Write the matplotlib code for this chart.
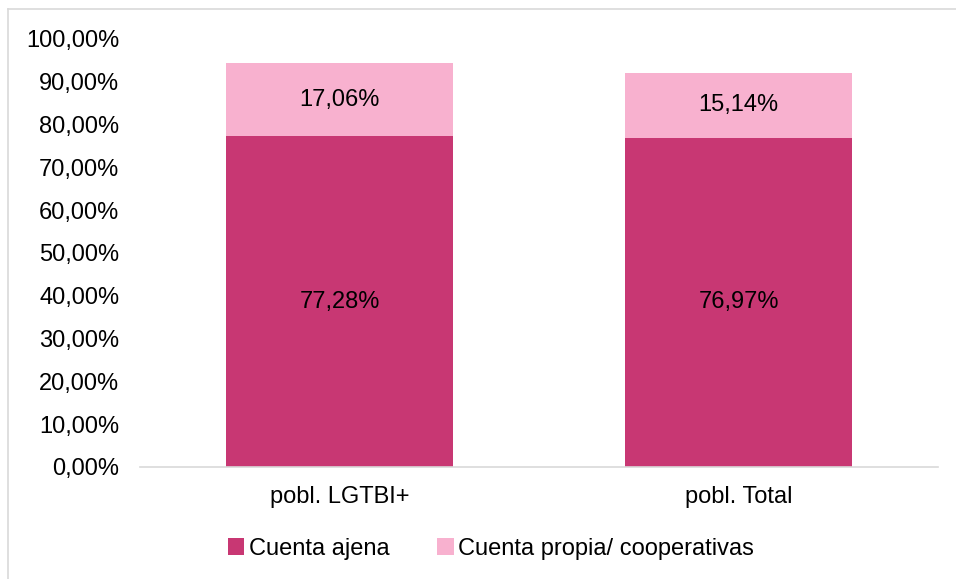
import numpy as np
import matplotlib.pyplot as plt
from matplotlib.lines import Line2D

plt.rcParams['font.family'] = ['Liberation Sans', 'DejaVu Sans']

categories = ['pobl. LGTBI+', 'pobl. Total']
cuenta_ajena = [77.28, 76.97]
cuenta_propia = [17.06, 15.14]
series_names = ['Cuenta ajena', 'Cuenta propia/ cooperativas']
colors = ['#C83773', '#F8B1CF']

fig = plt.figure(figsize=(9.56, 5.79), dpi=100)
ax = fig.add_axes([140/956, 1 - 467/579, 798/956, 428/579])

x = np.arange(len(categories))
w = 0.57
ax.bar(x, cuenta_ajena, w, color=colors[0], label=series_names[0])
ax.bar(x, cuenta_propia, w, bottom=cuenta_ajena, color=colors[1], label=series_names[1])

fmt = lambda v: f'{v:.2f}'.replace('.', ',') + '%'
for i in range(len(categories)):
    ax.text(x[i], cuenta_ajena[i] / 2, fmt(cuenta_ajena[i]), ha='center', va='center', fontsize=17)
    ax.text(x[i], cuenta_ajena[i] + cuenta_propia[i] / 2, fmt(cuenta_propia[i]),
            ha='center', va='center', fontsize=17)

ax.set_xlim(-0.5, len(categories) - 0.5)
ax.set_ylim(0, 100)
yt = np.arange(0, 101, 10)
ax.set_yticks(yt)
ax.set_yticklabels([f'{v},00%' for v in yt], fontsize=17)
ax.set_xticks(x)
ax.set_xticklabels(categories, fontsize=17)
ax.tick_params(axis='y', length=0, pad=15)
ax.tick_params(axis='x', length=0, pad=14)
for s in ['top', 'right', 'left']:
    ax.spines[s].set_visible(False)
ax.spines['bottom'].set_color('#D9D9D9')
ax.spines['bottom'].set_linewidth(1.2)

fig.legend(loc='center', bbox_to_anchor=(491/956, 1 - 549/579), ncol=2, frameon=False,
           fontsize=17, handlelength=0.7, handleheight=0.7, handletextpad=0.2, columnspacing=2.0)

# outer chart border (top and left visible)
fig.add_artist(Line2D([8/956, 1], [1 - 9/579, 1 - 9/579], color='#D9D9D9', lw=1.2, transform=fig.transFigure))
fig.add_artist(Line2D([8/956, 8/956], [0, 1 - 9/579], color='#D9D9D9', lw=1.2, transform=fig.transFigure))

fig.savefig('out.png', dpi=100)
